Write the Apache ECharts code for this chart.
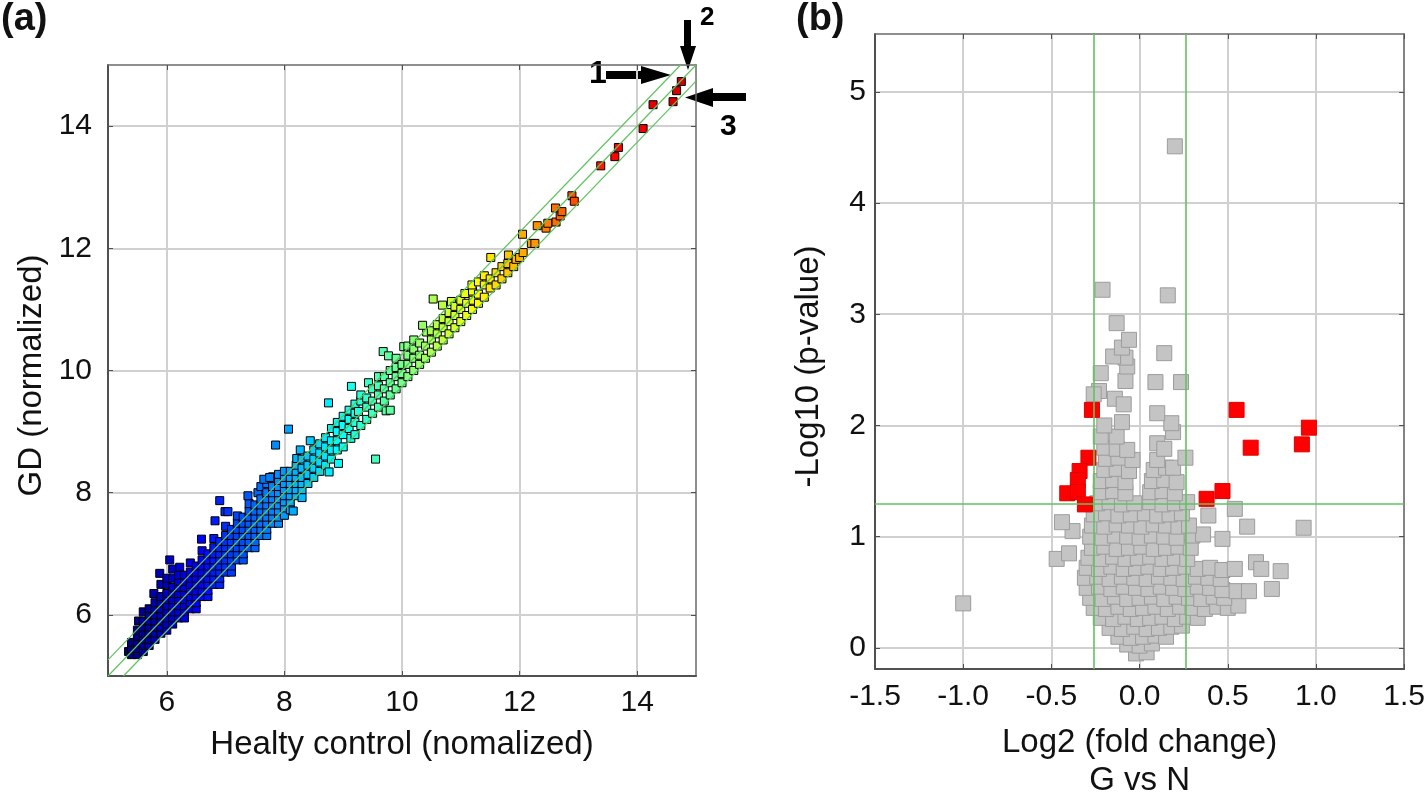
<!DOCTYPE html>
<html><head><meta charset="utf-8">
<script src="https://cdn.jsdelivr.net/npm/echarts@6/dist/echarts.min.js"></script>
<style>html,body{margin:0;padding:0;background:#fff}#c{width:1428px;height:805px}</style>
</head><body><div id="c"></div>
<script>
// ---------- Panel (a): GD vs healthy control ----------
const aTicks = [6, 8, 10, 12, 14];
const aFoldLimit = 0.263;
const aPoints = [
[5.35,5.4],[5.4,5.35],[5.4,5.45],[5.4,5.55],
[5.5,5.35],[5.5,5.45],[5.5,5.55],[5.5,5.65],[5.5,5.75],[5.52,5.9],
[5.6,5.4],[5.6,5.5],[5.6,5.6],[5.6,5.7],[5.6,5.8],[5.6,5.9],[5.6,6.05],
[5.7,5.5],[5.7,5.6],[5.7,5.7],[5.7,5.8],[5.7,5.9],[5.7,6.0],[5.7,6.1],
[5.8,5.6],[5.8,5.7],[5.8,5.8],[5.8,5.9],[5.8,6.0],[5.8,6.1],[5.8,6.2],[5.78,6.35],
[5.9,5.7],[5.9,5.8],[5.9,5.9],[5.9,6.0],[5.9,6.1],[5.9,6.2],[5.9,6.3],[5.9,6.5],[5.88,6.68],
[6.0,5.75],[6.0,5.85],[6.0,5.95],[6.0,6.05],[6.0,6.15],[6.0,6.25],[6.0,6.35],[6.0,6.5],[6.0,6.6],[6.05,6.9],
[6.1,5.85],[6.1,5.95],[6.1,6.05],[6.1,6.15],[6.1,6.25],[6.1,6.35],[6.1,6.45],[6.1,6.6],[6.1,6.75],
[6.2,5.95],[6.2,6.05],[6.2,6.15],[6.2,6.25],[6.2,6.35],[6.2,6.45],[6.2,6.55],[6.2,6.65],[6.22,6.78],
[6.3,5.95],[6.3,6.05],[6.3,6.15],[6.3,6.25],[6.3,6.35],[6.3,6.45],[6.3,6.55],[6.3,6.65],
[6.4,6.1],[6.4,6.2],[6.4,6.3],[6.4,6.4],[6.4,6.5],[6.4,6.6],[6.4,6.7],[6.4,6.85],
[6.5,6.1],[6.5,6.2],[6.5,6.3],[6.5,6.4],[6.5,6.5],[6.5,6.6],[6.5,6.7],[6.5,6.8],
[6.6,6.3],[6.6,6.4],[6.6,6.5],[6.6,6.6],[6.6,6.7],[6.6,6.8],[6.6,6.9],[6.6,7.05],[6.59,7.24],
[6.7,6.3],[6.7,6.4],[6.7,6.5],[6.7,6.6],[6.7,6.7],[6.7,6.8],[6.7,6.9],[6.7,7.0],
[6.8,6.5],[6.8,6.6],[6.8,6.7],[6.8,6.8],[6.8,6.9],[6.8,7.0],[6.8,7.1],[6.8,7.25],[6.82,7.54],
[6.9,6.5],[6.9,6.6],[6.9,6.7],[6.9,6.8],[6.9,6.9],[6.9,7.0],[6.9,7.1],[6.9,7.2],[6.9,7.87],
[7.0,6.7],[7.0,6.8],[7.0,6.9],[7.0,7.0],[7.0,7.1],[7.0,7.2],[7.0,7.3],[7.0,7.45],[6.99,7.69],[7.04,7.69],
[7.1,6.7],[7.1,6.8],[7.1,6.9],[7.1,7.0],[7.1,7.1],[7.1,7.2],[7.1,7.3],[7.1,7.4],
[7.2,6.9],[7.2,7.0],[7.2,7.1],[7.2,7.2],[7.2,7.3],[7.2,7.4],[7.2,7.5],[7.2,7.62],
[7.3,6.9],[7.3,7.0],[7.3,7.1],[7.3,7.2],[7.3,7.3],[7.3,7.4],[7.3,7.5],[7.3,7.6],
[7.4,7.1],[7.4,7.2],[7.4,7.3],[7.4,7.4],[7.4,7.5],[7.4,7.6],[7.4,7.7],[7.4,7.82],[7.38,7.95],
[7.5,7.1],[7.5,7.2],[7.5,7.3],[7.5,7.4],[7.5,7.5],[7.5,7.6],[7.5,7.7],[7.5,7.8],[7.55,8.0],
[7.6,7.3],[7.6,7.4],[7.6,7.5],[7.6,7.6],[7.6,7.7],[7.6,7.8],[7.6,7.9],[7.6,8.1],
[7.7,7.3],[7.7,7.4],[7.7,7.5],[7.7,7.6],[7.7,7.7],[7.7,7.8],[7.7,7.9],[7.7,8.0],[7.7,8.15],[7.65,8.22],
[7.8,7.5],[7.8,7.6],[7.8,7.7],[7.8,7.8],[7.8,7.9],[7.8,8.0],[7.8,8.1],[7.8,8.26],[7.75,8.25],
[7.9,7.5],[7.9,7.6],[7.9,7.7],[7.9,7.8],[7.9,7.9],[7.9,8.0],[7.9,8.1],[7.9,8.2],[7.9,8.3],[7.85,8.78],
[8.0,7.63],[8.0,7.75],[8.0,7.85],[8.0,7.95],[8.0,8.05],[8.0,8.15],[8.0,8.25],[8.0,8.35],
[8.1,7.72],[8.1,7.85],[8.1,7.95],[8.1,8.05],[8.1,8.15],[8.1,8.25],[8.1,8.35],[8.07,9.04],[8.15,7.7],
[8.2,7.95],[8.2,8.05],[8.2,8.15],[8.2,8.25],[8.2,8.35],[8.2,8.45],[8.21,8.56],
[8.3,7.92],[8.3,8.05],[8.3,8.15],[8.3,8.25],[8.3,8.4],[8.3,8.55],[8.27,8.7],
[8.4,8.15],[8.4,8.3],[8.4,8.45],[8.4,8.6],[8.44,8.85],
[8.5,8.25],[8.5,8.4],[8.5,8.55],[8.5,8.7],
[8.6,8.35],[8.6,8.5],[8.6,8.65],[8.6,8.8],
[8.7,8.45],[8.7,8.6],[8.7,8.75],[8.7,8.9],
[8.76,8.34],[8.8,8.55],[8.8,8.7],[8.8,8.85],[8.8,9.05],[8.75,9.47],
[8.92,8.48],[8.9,8.7],[8.9,8.85],[8.9,9.0],[8.9,9.15],
[9.0,8.75],[9.0,8.95],[9.0,9.1],[9.0,9.25],
[9.13,8.89],[9.1,9.05],[9.1,9.2],[9.1,9.35],[9.14,9.74],
[9.2,8.95],[9.2,9.15],[9.2,9.3],[9.2,9.45],
[9.3,9.1],[9.26,9.33],[9.3,9.5],[9.3,9.6],
[9.4,9.2],[9.4,9.4],[9.4,9.55],[9.43,9.8],
[9.5,9.3],[9.5,9.5],[9.5,9.7],[9.55,8.55],
[9.6,9.4],[9.6,9.6],[9.6,9.75],[9.6,9.9],
[9.73,9.34],[9.7,9.5],[9.7,9.7],[9.7,9.9],[9.68,10.31],
[9.8,9.35],[9.8,9.6],[9.8,9.8],[9.8,10.0],[9.77,10.24],
[9.9,9.7],[9.9,9.9],[9.9,10.05],[9.9,10.2],
[10.0,9.8],[10.0,9.95],[10.0,10.1],[10.03,10.39],
[10.1,9.9],[10.1,10.1],[10.1,10.25],[10.1,10.4],
[10.2,10.0],[10.2,10.2],[10.2,10.35],[10.2,10.5],
[10.3,10.1],[10.3,10.25],[10.3,10.45],
[10.4,10.2],[10.4,10.4],[10.42,10.63],[10.35,10.74],
[10.5,10.3],[10.5,10.5],[10.5,10.65],[10.53,11.17],
[10.6,10.4],[10.6,10.6],[10.6,10.75],
[10.7,10.5],[10.7,10.7],[10.7,10.85],[10.69,11.07],
[10.8,10.6],[10.8,10.8],[10.8,10.95],[10.84,11.13],
[10.9,10.7],[10.9,10.9],[10.9,11.05],
[11.0,10.8],[11.0,11.0],[11.0,11.15],
[11.1,10.9],[11.1,11.1],[11.07,11.26],
[11.2,11.0],[11.21,11.15],[11.2,11.3],[11.19,11.4],
[11.3,11.1],[11.3,11.25],[11.3,11.45],
[11.4,11.2],[11.4,11.4],[11.4,11.55],
[11.5,11.35],[11.5,11.5],[11.51,11.85],
[11.6,11.4],[11.6,11.6],
[11.7,11.5],[11.7,11.7],
[11.8,11.6],[11.8,11.75],[11.81,11.89],
[11.9,11.7],[11.94,11.82],
[12.0,11.85],[12.06,11.93],
[12.05,12.23],[12.2,12.08],[12.26,12.08],[12.3,12.37],[12.45,12.33],[12.48,12.41],
[12.61,12.66],[12.62,12.43],[12.69,12.53],[12.72,12.6],[12.89,12.86],[12.93,12.77],
[13.38,13.35],[13.62,13.5],[13.68,13.65],[14.1,13.96],[14.27,14.35],
[14.61,14.4],[14.67,14.58],[14.75,14.73]
];

// ---------- Panel (b): volcano plot ----------
const bXMin = -1.5, bXMax = 1.5, bXStep = 0.5;
const bYTicks = [0, 1, 2, 3, 4, 5];
const bFoldLimit = 0.263;
const bPLimit = 1.301;
const bGrey = [
[-0.02,-0.05],[0.04,-0.04],
[-0.07,0.03],[0.0,0.02],[0.07,0.04],
[-0.12,0.1],[-0.05,0.09],[0.02,0.1],[0.09,0.11],[0.15,0.1],
[-0.17,0.18],[-0.1,0.17],[-0.03,0.19],[0.04,0.17],[0.11,0.18],[0.18,0.19],[0.24,0.2],
[-0.22,0.27],[-0.15,0.26],[-0.08,0.28],[-0.01,0.26],[0.06,0.27],[0.13,0.28],[0.2,0.26],[0.27,0.28],[0.33,0.27],
[-0.26,0.36],[-0.19,0.35],[-0.12,0.37],[-0.05,0.35],[0.02,0.36],[0.09,0.37],[0.16,0.35],[0.23,0.37],[0.3,0.36],[0.37,0.35],[0.44,0.37],[0.5,0.36],[0.56,0.38],
[-0.28,0.45],[-0.21,0.44],[-0.14,0.46],[-0.07,0.44],[0.0,0.45],[0.07,0.46],[0.14,0.44],[0.21,0.46],[0.28,0.45],[0.35,0.44],[0.42,0.46],[0.48,0.45],
[-0.3,0.54],[-0.23,0.55],[-0.16,0.53],[-0.09,0.55],[-0.02,0.54],[0.05,0.53],[0.12,0.55],[0.19,0.54],[0.26,0.53],[0.33,0.55],[0.4,0.54],[0.47,0.52],[0.55,0.51],[0.62,0.51],[0.75,0.53],
[-0.31,0.63],[-0.24,0.64],[-0.17,0.62],[-0.1,0.64],[-0.03,0.63],[0.04,0.62],[0.11,0.64],[0.18,0.63],[0.25,0.62],[0.32,0.64],[0.39,0.63],[0.46,0.62],
[-0.3,0.72],[-0.23,0.71],[-0.16,0.73],[-0.09,0.71],[-0.02,0.72],[0.05,0.73],[0.12,0.71],[0.19,0.72],[0.26,0.73],[0.33,0.71],[0.4,0.72],[0.47,0.7],[0.54,0.71],[0.66,0.77],[0.69,0.71],[0.8,0.69],
[-0.29,0.81],[-0.22,0.8],[-0.15,0.82],[-0.08,0.8],[-0.01,0.81],[0.06,0.82],[0.13,0.8],[0.2,0.81],[0.27,0.8],[-0.47,0.8],[-0.4,0.85],
[-0.27,0.9],[-0.2,0.91],[-0.13,0.89],[-0.06,0.9],[0.01,0.91],[0.08,0.89],[0.15,0.9],[0.22,0.91],[0.29,0.9],
[-0.28,1.0],[-0.21,0.99],[-0.14,1.01],[-0.07,1.0],[0.0,0.99],[0.07,1.01],[0.14,1.0],[0.21,0.99],[0.3,1.01],[0.36,1.02],[0.47,0.98],[-0.38,1.05],
[-0.27,1.1],[-0.2,1.09],[-0.13,1.11],[-0.06,1.1],[0.01,1.09],[0.08,1.11],[0.15,1.1],[0.22,1.09],[0.28,1.1],[-0.44,1.13],[0.61,1.09],[0.93,1.08],
[-0.26,1.2],[-0.19,1.21],[-0.12,1.19],[-0.05,1.2],[0.03,1.21],[0.1,1.19],[0.17,1.2],[0.24,1.21],[0.39,1.19],[0.54,1.25],
[-0.24,1.3],[-0.17,1.31],[-0.1,1.29],[-0.03,1.3],[0.06,1.31],[0.13,1.29],[0.2,1.3],[0.27,1.31],
[-0.22,1.4],[-0.15,1.41],[-0.08,1.39],[0.06,1.4],[0.13,1.41],[0.2,1.39],
[-0.22,1.5],[-0.15,1.51],[-0.08,1.49],[0.07,1.5],[0.14,1.51],[0.21,1.49],
[-0.2,1.6],[-0.13,1.61],[-0.06,1.59],[0.08,1.6],[0.15,1.62],[0.19,1.62],
[-0.19,1.7],[-0.12,1.71],[-0.04,1.69],[0.1,1.69],[0.26,1.71],
[-0.2,1.8],[-0.13,1.79],[-0.07,1.78],[0.1,1.84],[0.14,1.79],
[-0.22,1.9],[-0.13,1.9],[0.19,1.94],
[-0.2,2.0],[-0.1,2.03],[0.18,2.02],
[-0.14,2.24],[0.1,2.11],[-0.09,2.19],
[-0.23,2.31],[-0.26,2.28],[-0.08,2.4],[0.09,2.39],[0.235,2.39],[-0.22,2.47],[-0.07,2.53],
[-0.08,2.61],[-0.15,2.62],[0.14,2.65],[-0.1,2.7],[-0.06,2.77],[-0.13,2.92],
[0.16,3.17],[-0.21,3.22],[0.2,4.51],[-1.0,0.40]
];
const bRed = [
[-0.27,2.14],[0.55,2.14],[0.96,1.98],[0.92,1.83],[0.63,1.80],[-0.29,1.71],
[-0.34,1.59],[-0.35,1.51],[-0.41,1.39],[-0.35,1.40],[-0.31,1.29],[0.38,1.34],[0.47,1.41]
];

const FONT = '"Liberation Sans", Arial, sans-serif';
const GREEN = '#5fc35f';
const frameLine = {show: true, onZero: false, lineStyle: {color: '#505050', width: 2}};
const frameLineThin = {show: true, onZero: false, lineStyle: {color: '#6a6a6a', width: 1.5}};
const gridSplit = {show: true, lineStyle: {color: '#d0d0d0', width: 2}};
const tickLabel = {fontSize: 30, color: '#111', fontFamily: FONT};
const nameStyle = {fontSize: 33, color: '#111', fontFamily: FONT};

const chart = echarts.init(document.getElementById('c'));
chart.setOption({
  backgroundColor: '#fff',
  animation: false,
  grid: [
    {left: 108, top: 65, width: 588, height: 611},
    {left: 875, top: 34, width: 536, height: 643}
  ],
  visualMap: [{
    type: 'continuous', show: false, seriesIndex: 0, dimension: 0,
    min: 5.4, max: 14.8,
    inRange: {color: ['#000080','#0000ff','#0080ff','#00ffff','#80ff80','#ffff00','#ff8000','#ff0000','#d00000']}
  }],
  xAxis: [
    {gridIndex: 0, type: 'value', min: 5, max: 15, position: 'bottom',
     axisLine: frameLine,
     axisTick: {show: true, inside: true, length: 5, customValues: aTicks, lineStyle: {color: '#505050'}},
     axisLabel: Object.assign({customValues: aTicks, margin: 12}, tickLabel),
     splitLine: gridSplit,
     name: 'Healty control (nomalized)', nameLocation: 'middle', nameGap: 52, nameTextStyle: nameStyle},
    {gridIndex: 0, type: 'value', min: 5, max: 15, position: 'top',
     axisLine: frameLineThin,
     axisTick: {show: true, inside: true, length: 5, customValues: aTicks, lineStyle: {color: '#505050'}},
     axisLabel: {show: false}, splitLine: {show: false}},
    {gridIndex: 1, type: 'value', min: bXMin, max: bXMax, interval: bXStep, position: 'bottom',
     axisLine: frameLine,
     axisTick: {show: true, inside: true, length: 5, lineStyle: {color: '#505050'}},
     axisLabel: Object.assign({margin: 13, formatter: v => v.toFixed(1)}, tickLabel),
     splitLine: gridSplit,
     name: 'Log2 (fold change)\nG vs N', nameLocation: 'middle', nameGap: 55,
     nameTextStyle: Object.assign({lineHeight: 38}, nameStyle)},
    {gridIndex: 1, type: 'value', min: bXMin, max: bXMax, interval: bXStep, position: 'top',
     axisLine: frameLineThin,
     axisTick: {show: true, inside: true, length: 5, lineStyle: {color: '#505050'}},
     axisLabel: {show: false}, splitLine: {show: false}}
  ],
  yAxis: [
    {gridIndex: 0, type: 'value', min: 5, max: 15, position: 'left',
     axisLine: frameLine,
     axisTick: {show: true, inside: true, length: 5, customValues: aTicks, lineStyle: {color: '#505050'}},
     axisLabel: Object.assign({customValues: aTicks, margin: 16}, tickLabel),
     splitLine: gridSplit,
     name: 'GD (normalized)', nameLocation: 'middle', nameGap: 60,
     nameTextStyle: Object.assign({padding: [0, 10, 0, 0]}, nameStyle)},
    {gridIndex: 0, type: 'value', min: 5, max: 15, position: 'right',
     axisLine: frameLineThin,
     axisTick: {show: true, inside: true, length: 5, customValues: aTicks, lineStyle: {color: '#505050'}},
     axisLabel: {show: false}, splitLine: {show: false}},
    {gridIndex: 1, type: 'value', min: -0.19, max: 5.52, position: 'left',
     axisLine: frameLine,
     axisTick: {show: true, inside: true, length: 5, customValues: bYTicks, lineStyle: {color: '#505050'}},
     axisLabel: Object.assign({customValues: bYTicks, margin: 9}, tickLabel),
     splitLine: gridSplit,
     name: '-Log10 (p-value)', nameLocation: 'middle', nameGap: 50,
     nameTextStyle: Object.assign({padding: [0, 30, 0, 0]}, nameStyle)},
    {gridIndex: 1, type: 'value', min: -0.19, max: 5.52, position: 'right',
     axisLine: frameLineThin,
     axisTick: {show: true, inside: true, length: 5, customValues: bYTicks, lineStyle: {color: '#505050'}},
     axisLabel: {show: false}, splitLine: {show: false}}
  ],
  series: [
    {type: 'scatter', xAxisIndex: 0, yAxisIndex: 0, data: aPoints, symbol: 'rect', symbolSize: 8,
     itemStyle: {borderColor: '#000', borderWidth: 1, opacity: 1}, z: 3},
    {type: 'line', xAxisIndex: 0, yAxisIndex: 0, symbol: 'none', silent: true, z: 5,
     lineStyle: {color: GREEN, width: 1.2},
     data: [[5, 5], [15, 15]]},
    {type: 'line', xAxisIndex: 0, yAxisIndex: 0, symbol: 'none', silent: true, z: 5,
     lineStyle: {color: GREEN, width: 1.2},
     data: [[5, 5 + aFoldLimit], [15 - aFoldLimit, 15]]},
    {type: 'line', xAxisIndex: 0, yAxisIndex: 0, symbol: 'none', silent: true, z: 5,
     lineStyle: {color: GREEN, width: 1.2},
     data: [[5 + aFoldLimit, 5], [15, 15 - aFoldLimit]]},
    {type: 'scatter', xAxisIndex: 2, yAxisIndex: 2, data: bGrey, symbol: 'rect', symbolSize: 15,
     itemStyle: {color: '#c4c4c4', borderColor: '#9c9c9c', borderWidth: 1, opacity: 1}, z: 3},
    {type: 'scatter', xAxisIndex: 2, yAxisIndex: 2, data: bRed, symbol: 'rect', symbolSize: 15,
     itemStyle: {color: '#ff0000', borderColor: '#e00000', borderWidth: 1, opacity: 1}, z: 4,
     markLine: {silent: true, symbol: 'none', label: {show: false}, z: 6,
       lineStyle: {color: GREEN, width: 1.6, type: 'solid'},
       data: [{xAxis: -bFoldLimit}, {xAxis: bFoldLimit}, {yAxis: bPLimit}]}}
  ],
  graphic: [
    {type: 'text', left: 1, top: 1, style: {text: '(a)', font: 'bold 38px ' + FONT, fill: '#111'}},
    {type: 'text', left: 796, top: 1, style: {text: '(b)', font: 'bold 38px ' + FONT, fill: '#111'}},
    // arrow 1 (pointing right)
    {type: 'polygon', shape: {points: [[606,71],[641,71],[641,66],[671,75],[641,84],[641,79],[606,79]]}, style: {fill: '#000'}},
    {type: 'text', x: 589, y: 58, style: {text: '1', font: 'bold 32px ' + FONT, fill: '#000'}},
    // arrow 2 (pointing down)
    {type: 'polygon', shape: {points: [[684,20],[691,20],[691,46],[696,46],[688,70],[680,46],[684,46]]}, style: {fill: '#000'}},
    {type: 'text', x: 700, y: 5, style: {text: '2', font: 'bold 26px ' + FONT, fill: '#000'}},
    // arrow 3 (pointing left)
    {type: 'polygon', shape: {points: [[746,93],[713,93],[713,88],[685,97.5],[713,107],[713,101],[746,101]]}, style: {fill: '#000'}},
    {type: 'text', x: 720, y: 112, style: {text: '3', font: 'bold 30px ' + FONT, fill: '#000'}}
  ]
});
</script>
</body></html>
